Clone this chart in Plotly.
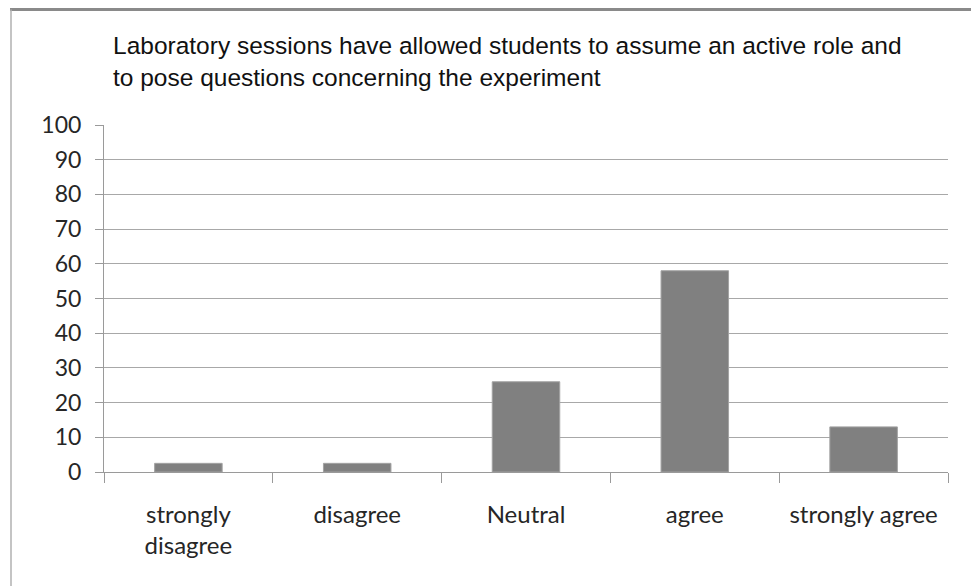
import plotly.graph_objects as go

categories = ["strongly<br>disagree", "disagree", "Neutral", "agree", "strongly agree"]
values = [2.5, 2.5, 26, 58, 13]
y_ticks = list(range(0, 101, 10))
title_text = ("Laboratory sessions have allowed students to assume an active role and<br>"
              "to pose questions concerning the experiment")

W, H = 971, 586
ML, MR, MT, MB = 104, 23, 125, 114
pw = W - ML - MR
ph = H - MT - MB

def px_x(px):
    return (px - ML) / pw

def px_y(py):
    return (H - MB - py) / ph

fig = go.Figure()
fig.add_trace(go.Bar(
    x=categories, y=values, width=0.4,
    marker=dict(color="#808080", line=dict(color="#a3a3a3", width=1)),
    hoverinfo="x+y",
))

tick_font = dict(family="Lato, Open Sans, sans-serif", size=23, color="#262626")

fig.update_layout(
    width=W, height=H,
    margin=dict(l=ML, r=MR, t=MT, b=MB),
    paper_bgcolor="white", plot_bgcolor="white",
    showlegend=False,
    bargap=0.6,
    xaxis=dict(
        type="category", tickson="boundaries", ticks="outside", ticklen=10,
        tickcolor="#9a9a9a", showline=True, linecolor="#9a9a9a", linewidth=1,
        showgrid=False, tickfont=dict(tick_font, size=24), ticklabelstandoff=21,
    ),
    yaxis=dict(
        range=[0, 100], tickvals=y_ticks, ticks="outside", ticklen=8,
        tickcolor="#9a9a9a", showline=True, linecolor="#9a9a9a", linewidth=1,
        showgrid=True, gridcolor="#a8a8a8", gridwidth=1, zeroline=False,
        tickfont=tick_font, ticklabelstandoff=9,
    ),
    annotations=[dict(
        text=title_text, xref="paper", yref="paper",
        x=px_x(111), y=px_y(61), xanchor="left", yanchor="middle", align="left",
        showarrow=False,
        font=dict(family="Liberation Sans, Arial, sans-serif", size=24.5, color="#111111"),
    )],
    shapes=[
        dict(type="line", xref="paper", yref="paper",
             x0=px_x(10), x1=px_x(W), y0=px_y(9.5), y1=px_y(9.5),
             line=dict(color="#8a8a8a", width=3)),
        dict(type="line", xref="paper", yref="paper",
             x0=px_x(11), x1=px_x(11), y0=px_y(9.5), y1=px_y(H),
             line=dict(color="#b0b0b0", width=1.5)),
    ],
)

fig.write_html("out.html")
